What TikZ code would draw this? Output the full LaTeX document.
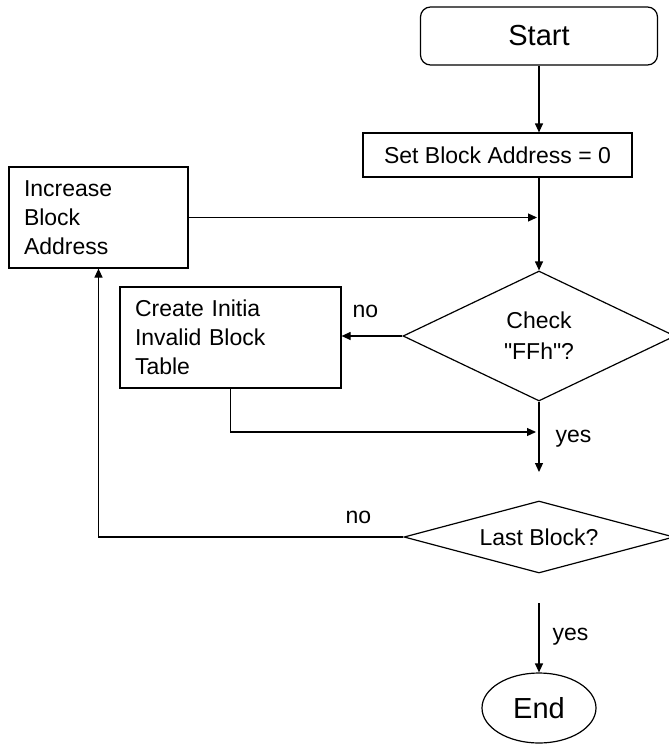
\documentclass[tikz,border=0pt]{standalone}
\usepackage{fontspec}
\setmainfont{Liberation Sans}[Ligatures=TeXOff]
\usetikzlibrary{shapes.geometric,arrows.meta}
\begin{document}
\begin{tikzpicture}[x=1pt,y=-1pt,line width=1.2pt]
\tikzset{
  box/.style={draw, rectangle, inner sep=0pt, font=\fontsize{23}{29}\selectfont},
  dia/.style={draw, diamond, inner sep=0pt, align=center, font=\fontsize{23}{31}\selectfont},
  big/.style={font=\fontsize{29}{34}\selectfont},
  lbl/.style={inner sep=0pt, anchor=base west, font=\fontsize{23}{28}\selectfont},
  arr/.style={-{Triangle[length=9pt,width=8pt]}},
}
\useasboundingbox (0,0) rectangle (669,744);

\node[box, big, rounded corners=10pt, minimum width=237pt, minimum height=58pt] (start) at (539,36) {Start};
\node[box, minimum width=269pt, minimum height=44pt] (set) at (497.5,155) {Set Block Address = 0};
\node[box, minimum width=179pt, minimum height=101pt, text width=149pt, align=left] (inc) at (98.5,217.5) {Increase\\Block\\Address};
\node[dia, aspect=2.09, minimum width=272pt, minimum height=130pt] (check) at (539,336) {Check\\"FFh"?};
\node[box, minimum width=221pt, minimum height=101pt, text width=191pt, align=left] (create) at (230.5,337.5) {Create Initia\\Invalid Block\\Table};
\node[dia, aspect=3.75, minimum width=270pt, minimum height=72pt] (last) at (539,537) {Last Block?};
\node[draw, ellipse, big, inner sep=0pt, minimum width=114pt, minimum height=70pt] (end) at (539,708) {End};

\coordinate (j1) at (536,432);
\coordinate (j2) at (539,472);
\coordinate (j3) at (539,603);

\draw[arr] (start.south) -- (start.south |- set.north);
\draw[arr] (set.south -| check.north) -- (check.north);
\draw[arr, shorten >=2pt] (inc.east) -- (inc.east -| check.north);
\draw[arr] (check.west) -- (check.west -| create.east);
\draw[arr] (create.south) |- (j1);
\draw[arr] (check.south) -- (j2);
\draw[arr] (last.west) -| (inc.south);
\draw[arr] (j3) -- (end.north);

\node[lbl] (no1) at (352,317) {no};
\node[lbl] (yes1) at (555,442) {yes};
\node[lbl] (no2) at (345,523) {no};
\node[lbl] (yes2) at (552,640) {yes};
\end{tikzpicture}
\end{document}
